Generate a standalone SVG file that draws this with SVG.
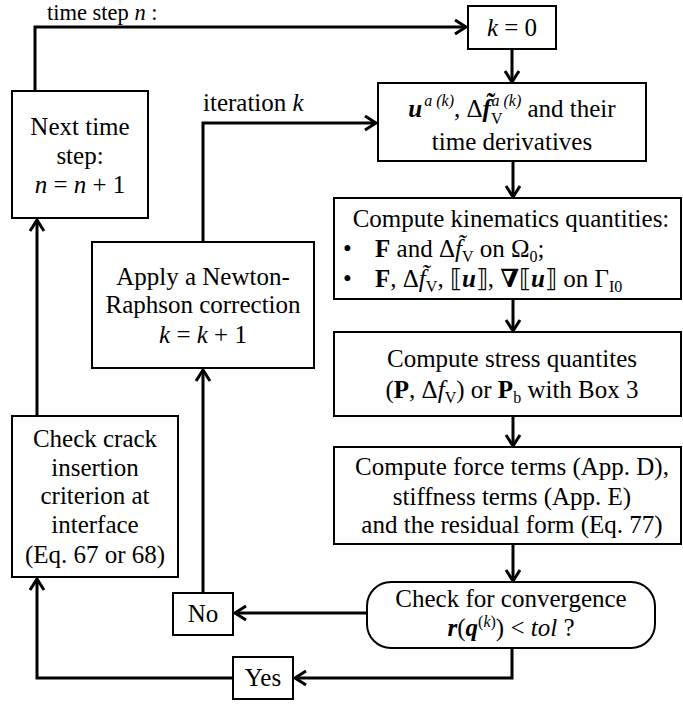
<svg xmlns="http://www.w3.org/2000/svg" width="683" height="705" viewBox="0 0 683 705">
<defs>
<style>
.box{fill:#fff;stroke:#000;stroke-width:2}
.con{fill:none;stroke:#000;stroke-width:3}
text{font-family:"Liberation Serif","DejaVu Serif",serif;font-size:25px;fill:#000}
.c{text-anchor:middle}
.i{font-style:italic}
.b{font-weight:bold}
.bi{font-weight:bold;font-style:italic}
.s{font-size:16px}
</style>
<marker id="ah" markerUnits="userSpaceOnUse" viewBox="-14 -9 16 18" refX="0" refY="0" markerWidth="16" markerHeight="18" orient="auto">
<path d="M-11,-7 L0,0 L-11,7" fill="none" stroke="#000" stroke-width="3"/>
</marker>
</defs>
<rect width="683" height="705" fill="#fff"/>

<g id="connectors">
<polyline class="con" points="35,91 35,27 466,27" marker-end="url(#ah)"/>
<line class="con" x1="512" y1="49" x2="512" y2="82" marker-end="url(#ah)"/>
<line class="con" x1="513" y1="161" x2="513" y2="197" marker-end="url(#ah)"/>
<line class="con" x1="513" y1="299" x2="513" y2="331" marker-end="url(#ah)"/>
<line class="con" x1="513" y1="416" x2="513" y2="446" marker-end="url(#ah)"/>
<line class="con" x1="513" y1="544" x2="513" y2="581" marker-end="url(#ah)"/>
<line class="con" x1="367" y1="613" x2="235" y2="613" marker-end="url(#ah)"/>
<line class="con" x1="203" y1="593" x2="203" y2="370" marker-end="url(#ah)"/>
<polyline class="con" points="203,242 203,123 376,123" marker-end="url(#ah)"/>
<polyline class="con" points="512,648 512,678 295,678" marker-end="url(#ah)"/>
<polyline class="con" points="233,678 37,678 37,579" marker-end="url(#ah)"/>
<line class="con" x1="37" y1="416" x2="37" y2="220" marker-end="url(#ah)"/>
<text x="47" y="20" style="font-size:22.5px">time step <tspan class="i">n</tspan> :</text>
<text x="203" y="111">iteration <tspan class="i">k</tspan></text>
</g>

<g id="next-time-step">
<rect class="box" x="12" y="91" width="136" height="127"/>
<text class="c" x="80" y="135">Next time</text>
<text class="c" x="80" y="164">step:</text>
<text class="c" x="80" y="193"><tspan class="i">n</tspan> = <tspan class="i">n</tspan> + 1</text>
</g>

<g id="k0">
<rect class="box" x="468" y="6" width="88" height="43"/>
<text class="c" x="512" y="36"><tspan class="i">k</tspan> = 0</text>
</g>

<g id="variables">
<rect class="box" x="378" y="83" width="268" height="78"/>
<text class="c" x="512" y="117"><tspan class="bi">u</tspan><tspan class="s i" dx="2" dy="-11">a (k)</tspan><tspan dy="11">, Δ</tspan><tspan class="bi">f̃</tspan><tspan class="s" dy="7">V</tspan><tspan class="s i" dx="-11" dy="-18">a (k)</tspan><tspan dy="11"> and their</tspan></text>
<text class="c" x="512" y="150">time derivatives</text>
</g>

<g id="kinematics">
<rect class="box" x="334" y="198" width="347" height="101"/>
<text class="c" x="511" y="227">Compute kinematics quantities:</text>
<text x="343" y="257">•</text>
<text x="375" y="257"><tspan class="b">F</tspan> and Δ<tspan class="i">f̃</tspan><tspan class="s" dy="5">V</tspan><tspan dy="-5"> on Ω</tspan><tspan class="s" dy="5">0</tspan><tspan dy="-5">;</tspan></text>
<text x="343" y="287">•</text>
<text x="375" y="287"><tspan class="b">F</tspan>, Δ<tspan class="i">f̃</tspan><tspan class="s" dy="5">V</tspan><tspan dy="-5">, ⟦</tspan><tspan class="bi">u</tspan>⟧, <tspan class="bi">∇</tspan>⟦<tspan class="bi">u</tspan>⟧ on Γ<tspan class="s" dy="5">I0</tspan></text>
</g>

<g id="stress">
<rect class="box" x="334" y="332" width="347" height="84"/>
<text class="c" x="512" y="367">Compute stress quantites</text>
<text class="c" x="512" y="398">(<tspan class="b">P</tspan>, Δ<tspan class="i">f</tspan><tspan class="s" dy="5">V</tspan><tspan dy="-5">) or </tspan><tspan class="b">P</tspan><tspan class="s" dy="5">b</tspan><tspan dy="-5"> with Box 3</tspan></text>
</g>

<g id="force">
<rect class="box" x="334" y="447" width="347" height="97"/>
<text class="c" x="512" y="475">Compute force terms (App. D),</text>
<text class="c" x="512" y="505">stiffness terms (App. E)</text>
<text class="c" x="512" y="533">and the residual form (Eq. 77)</text>
</g>

<g id="convergence">
<rect class="box" x="367" y="582" width="288" height="66" rx="24" ry="24"/>
<text class="c" x="511" y="607">Check for convergence</text>
<text class="c" x="511" y="636"><tspan class="bi">r</tspan>(<tspan class="bi">q</tspan><tspan class="s" dy="-9">(<tspan class="i">k</tspan>)</tspan><tspan dy="9">) &lt; </tspan><tspan class="i">tol</tspan> ?</text>
</g>

<g id="no">
<rect class="box" x="173" y="593" width="60" height="42"/>
<text class="c" x="203" y="622">No</text>
</g>

<g id="yes">
<rect class="box" x="233" y="657" width="60" height="42"/>
<text class="c" x="263" y="686">Yes</text>
</g>

<g id="newton">
<rect class="box" x="92" y="242" width="222" height="126"/>
<text class="c" x="203" y="285">Apply a Newton-</text>
<text class="c" x="203" y="313">Raphson correction</text>
<text class="c" x="203" y="343"><tspan class="i">k</tspan> = <tspan class="i">k</tspan> + 1</text>
</g>

<g id="crack">
<rect class="box" x="12" y="416" width="166" height="161"/>
<text class="c" x="95" y="447">Check crack</text>
<text class="c" x="95" y="476">insertion</text>
<text class="c" x="95" y="504">criterion at</text>
<text class="c" x="95" y="533">interface</text>
<text class="c" x="95" y="563">(Eq. 67 or 68)</text>
</g>
</svg>
